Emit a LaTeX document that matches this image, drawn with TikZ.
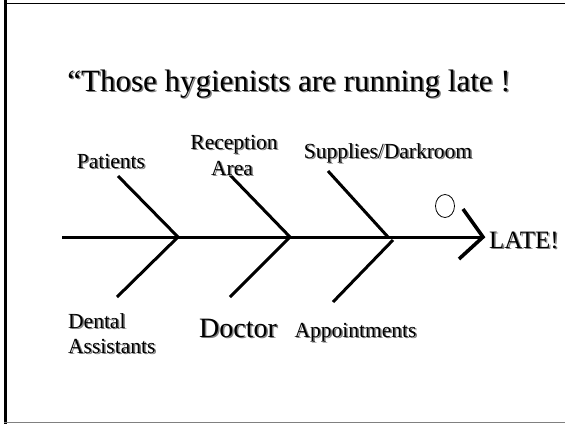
\documentclass[tikz,border=0pt]{standalone}
\usepackage{fontspec}
\setmainfont{Liberation Serif}
\newcommand{\shd}[1]{\makebox[0pt][l]{\textcolor{black!50}{\raisebox{-1.5pt}{\kern1.5pt#1}}}#1}
\begin{document}
\begin{tikzpicture}[x=1pt,y=-1pt,
  lbl/.style={inner sep=0pt,anchor=base,font=\fontsize{21.5}{26}\selectfont},
  bone/.style={line width=3pt},
  headline/.style={line width=3.6pt}]
\useasboundingbox (0,0) rectangle (565,424);
% frame
\draw[line width=3pt] (5.5,0) -- (5.5,424);
\draw[line width=1.5pt] (4,3.3) -- (565,3.3);
\draw[line width=1.3pt,black!50] (4,422.7) -- (565,422.7);
% title
\node[inner sep=0pt,anchor=base,font=\fontsize{31}{36}\selectfont] (title) at (289,91) {\shd{“Those hygienists are running late !}};
% spine
\coordinate (tail) at (62,237);
\coordinate (head) at (483,237);
\coordinate (j1) at (178,237);
\coordinate (j2) at (290,237);
\coordinate (j3) at (388,237);
\coordinate (j3b) at (393,240);
\coordinate (u1) at (118,176);
\coordinate (u2) at (230,175);
\coordinate (u3) at (328,171);
\coordinate (d1) at (117,297);
\coordinate (d2) at (230,297);
\coordinate (d3) at (333,302);
\coordinate (ah1) at (463,209);
\coordinate (ah2) at (459,259);
\draw[bone] (tail) -- (head);
\draw[bone] (u1) -- (j1) -- (d1);
\draw[bone] (u2) -- (j2) -- (d2);
\draw[bone] (u3) -- (j3);
\draw[bone] (j3b) -- (d3);
\draw[headline,line join=miter] (ah1) -- (head) -- (ah2);
% circle
\draw[line width=0.8pt] (445,206) ellipse[x radius=9.5,y radius=11.5];
% labels
\node[lbl] (patients) at (111,168) {\shd{Patients}};
\node[lbl] (reception) at (234,149) {\shd{Reception}};
\node[lbl] (area) at (232,175) {\shd{Area}};
\node[lbl] (supplies) at (388,158) {\shd{Supplies/Darkroom}};
\node[lbl,anchor=base west,font=\fontsize{25}{30}\selectfont] (late) at (489,248) {\shd{LATE!}};
\node[lbl,anchor=base west] (dental) at (68,328) {\shd{Dental}};
\node[lbl,anchor=base west] (assist) at (68,353) {\shd{Assistants}};
\node[lbl,font=\fontsize{28}{32}\selectfont] (doctor) at (238,337) {\shd{Doctor}};
\node[lbl] (appoint) at (355.5,337) {\shd{Appointments}};
\end{tikzpicture}
\end{document}
